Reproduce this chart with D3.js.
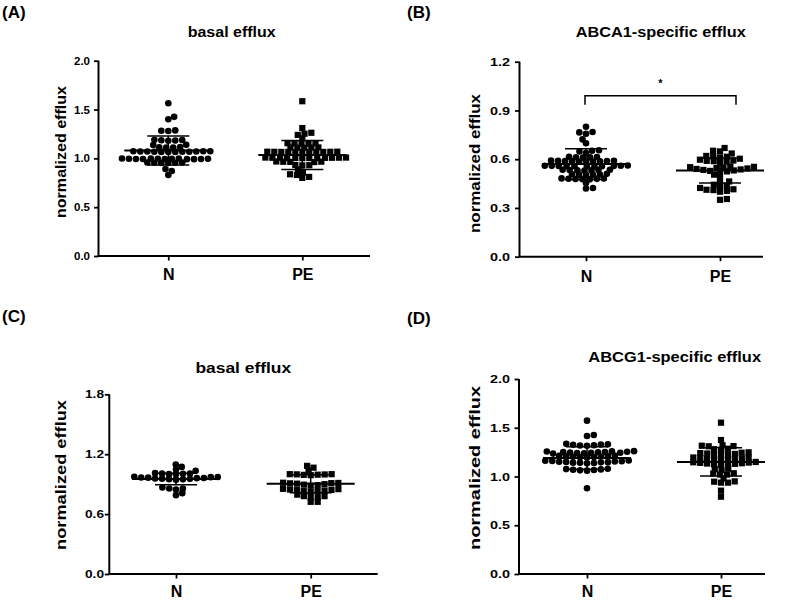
<!DOCTYPE html>
<html>
<head>
<meta charset="utf-8">
<script src="https://cdn.jsdelivr.net/npm/d3@7"></script>
<style>
  html, body { margin: 0; padding: 0; background: #fff; }
  text { font-family: "Liberation Sans", Arial, sans-serif; font-weight: bold; fill: #000; }
</style>
</head>
<body>
<div id="chart"></div>
<script>
// ---------------- data ----------------
const categories = ["N", "PE"];
const panelTags = ["(A)", "(B)", "(C)", "(D)"];
const panelTitles = ["basal efflux", "ABCA1-specific efflux", "basal efflux", "ABCG1-specific efflux"];
const yAxisTitle = "normalized efflux";

const ticksA = [0, 0.5, 1.0, 1.5, 2.0];
const ticksB = [0, 0.3, 0.6, 0.9, 1.2];
const ticksC = [0, 0.6, 1.2, 1.8];
const ticksD = [0, 0.5, 1.0, 1.5, 2.0];

// panel A: basal efflux
const aN = [0.83, 0.87, 0.89,
  0.952, 0.955, 0.958, 0.955, 0.952, 0.958,
  0.992, 0.994, 0.996, 0.998, 0.994, 0.996, 0.992, 0.998, 0.994, 0.996, 0.998, 0.992, 0.995,
  1.066, 1.068, 1.070, 1.072, 1.068, 1.070, 1.066, 1.072, 1.068, 1.070, 1.072, 1.066,
  1.110, 1.112, 1.115, 1.110, 1.136, 1.138,
  1.180, 1.183, 1.185, 1.188, 1.190,
  1.280, 1.283, 1.286,
  1.400, 1.425, 1.565];
const aPE = [0.80, 0.81, 0.83, 0.837, 0.855, 0.888,
  0.928, 0.930, 0.932,
  0.962, 0.964, 0.965, 0.966, 0.968,
  1.002, 1.003, 1.004, 1.005, 1.005, 1.006, 1.006, 1.007, 1.007, 1.008, 1.008, 1.004,
  1.064, 1.065, 1.065, 1.066, 1.066, 1.066, 1.067, 1.067, 1.068, 1.068, 1.064,
  1.108, 1.109, 1.110, 1.111, 1.112,
  1.150, 1.151, 1.152, 1.154, 1.155,
  1.205, 1.240, 1.252, 1.262, 1.310, 1.585];
const meanA = [1.08, 1.035];
const sdA = [0.148, 0.148];

// panel B: ABCA1-specific efflux
const bN = [0.420, 0.423, 0.453,
  0.476, 0.477, 0.478, 0.479, 0.480, 0.481, 0.482,
  0.503, 0.504, 0.505, 0.506, 0.508, 0.510,
  0.530, 0.531, 0.532, 0.533, 0.534, 0.535, 0.535,
  0.556, 0.556, 0.557, 0.557, 0.558, 0.558, 0.559, 0.559, 0.560, 0.560, 0.561,
  0.585, 0.586, 0.586, 0.587, 0.588, 0.588, 0.589, 0.590, 0.590, 0.591,
  0.610, 0.611, 0.612, 0.614, 0.615,
  0.638, 0.648, 0.652, 0.655,
  0.698, 0.722, 0.757, 0.765, 0.767, 0.800];
const bPE = [0.350, 0.355,
  0.400, 0.405, 0.410, 0.412, 0.415, 0.423, 0.430, 0.437, 0.443, 0.460, 0.463,
  0.490, 0.505,
  0.522, 0.525, 0.528, 0.531, 0.534, 0.537, 0.540, 0.543, 0.546, 0.549, 0.551, 0.553, 0.555,
  0.576, 0.585, 0.588, 0.590, 0.592, 0.597, 0.603, 0.610, 0.615, 0.617, 0.620, 0.635, 0.648, 0.652, 0.669];
const meanB = [0.57, 0.53];
const sdB = [0.095, 0.077];
const sigLabel = "*";
const sigBracketValue = 0.99;

// panel C: basal efflux
const cN = [0.790, 0.810,
  0.845, 0.855, 0.857, 0.866,
  0.945, 0.948, 0.950, 0.953, 0.955, 0.957, 0.960, 0.962, 0.965, 0.967, 0.970, 0.972, 0.974,
  1.000, 1.000, 1.003, 1.007, 1.007, 1.010,
  1.033, 1.047, 1.073, 1.097];
const cPE = [0.723, 0.723,
  0.770, 0.770, 0.780, 0.780, 0.795,
  0.825, 0.830, 0.833, 0.836, 0.840, 0.843, 0.846, 0.850, 0.853,
  0.885, 0.890, 0.895, 0.900, 0.905, 0.908, 0.910, 0.912, 0.914,
  0.990, 0.993, 0.995, 0.997, 0.998, 1.000, 1.000,
  1.033, 1.065, 1.083];
const meanC = [0.952, 0.905];
const sdC = [0.058, 0.09];

// panel D: ABCG1-specific efflux
const dN = [0.880,
  1.060, 1.063, 1.066, 1.070, 1.073, 1.076, 1.080,
  1.135, 1.138, 1.140, 1.142, 1.145, 1.147, 1.150, 1.152, 1.155, 1.157, 1.160, 1.162, 1.164,
  1.195, 1.197, 1.200, 1.202, 1.205, 1.207, 1.210, 1.212, 1.215,
  1.235, 1.237, 1.240, 1.242, 1.244, 1.246, 1.248, 1.250, 1.252, 1.254, 1.256, 1.258, 1.260,
  1.315, 1.318, 1.320, 1.325, 1.328, 1.330, 1.335,
  1.415, 1.426, 1.573];
const dPE = [0.793, 0.855,
  0.937, 0.937, 0.947, 0.950,
  0.980,
  1.020, 1.020, 1.030, 1.033,
  1.065, 1.075, 1.080,
  1.120, 1.125, 1.128, 1.130, 1.133, 1.136, 1.140, 1.143, 1.146, 1.149,
  1.170, 1.175, 1.178, 1.180, 1.183, 1.186, 1.190, 1.195, 1.198,
  1.220, 1.225, 1.228, 1.232, 1.236, 1.240, 1.244, 1.248,
  1.275, 1.280, 1.285,
  1.310, 1.312, 1.316, 1.320,
  1.374, 1.552];
const meanD = [1.19, 1.15];
const sdD = [0.115, 0.145];

// ---------------- layout (positions / sizes) ----------------
const layout = [
  {ax: 98.5, top: 60.7, bottom: 256, xEnd: 370, xN: 168.3, xPE: 302.3, tickW: 16, tickRight: 90, titleX: 231.7, titleY: 37, titleW: 88, labX: 65.7, labY: 152, labL: 132, catY: 280, tagX: 2, tagY: 18},
  {ax: 519.5, top: 61.7, bottom: 256.7, xEnd: 763, xN: 586, xPE: 720, tickW: 20, tickRight: 510, titleX: 660.7, titleY: 37.3, titleW: 170, labX: 480, labY: 163.5, labL: 139, catY: 281.7, tagX: 407, tagY: 18},
  {ax: 109.3, top: 394.3, bottom: 574, xEnd: 377.7, xN: 176, xPE: 310.7, tickW: 19, tickRight: 104, titleX: 243.3, titleY: 372.5, titleW: 95.7, labX: 65.7, labY: 475, labL: 150, catY: 597, tagX: 2, tagY: 321.5},
  {ax: 519, top: 379, bottom: 574, xEnd: 765, xN: 587, xPE: 721, tickW: 20, tickRight: 510, titleX: 674.7, titleY: 361.7, titleW: 172.7, labX: 480, labY: 468, labL: 164, catY: 597, tagX: 407, tagY: 323.5}
];

const panelData = [
  {ticks: ticksA, groups: [aN, aPE], mean: meanA, sd: sdA},
  {ticks: ticksB, groups: [bN, bPE], mean: meanB, sd: sdB, sig: true},
  {ticks: ticksC, groups: [cN, cPE], mean: meanC, sd: sdC},
  {ticks: ticksD, groups: [dN, dPE], mean: meanD, sd: sdD}
];

const W = 790, H = 600;
const svg = d3.select("#chart").append("svg").attr("width", W).attr("height", H);

// beeswarm with an elliptical keep-out zone (DX wide, DY tall):
// points in ascending order go to the free spot nearest the centre
function swarm(values, y, DX, DY) {
  const pts = values.map(v => ({v, y: y(v)})).sort((a, b) => a.v - b.v);
  const placed = [];
  let flip = 1;
  const clash = (q, cx, cy) => ((q.x - cx) / DX) ** 2 + ((q.y - cy) / DY) ** 2 < 1 - 1e-6;
  for (const p of pts) {
    const cand = [0];
    for (const q of placed) {
      const dy = Math.abs(q.y - p.y);
      if (dy < DY) {
        const dx = DX * Math.sqrt(1 - (dy / DY) ** 2);
        cand.push(q.x + dx, q.x - dx);
      }
    }
    cand.sort((a, b) => (Math.abs(a) - Math.abs(b)) || (flip * (a - b)));
    for (const c of cand) {
      if (!placed.some(q => clash(q, c, p.y))) { p.x = c; break; }
    }
    flip = -flip;
    placed.push(p);
  }
  return placed;
}

panelData.forEach((pd, i) => {
  const L = layout[i];
  const g = svg.append("g");
  const yMax = pd.ticks[pd.ticks.length - 1];
  const y = d3.scaleLinear().domain([0, yMax]).range([L.bottom, L.top]);
  const x = d3.scalePoint().domain(categories).range([L.xN, L.xPE]);

  g.append("text").attr("x", L.tagX).attr("y", L.tagY).attr("font-size", 17).text(panelTags[i]);
  g.append("text").attr("x", L.titleX).attr("y", L.titleY).attr("text-anchor", "middle")
    .attr("font-size", 14.5).attr("textLength", L.titleW).attr("lengthAdjust", "spacingAndGlyphs")
    .text(panelTitles[i]);
  g.append("text").attr("transform", `translate(${L.labX},${L.labY}) rotate(-90)`)
    .attr("text-anchor", "middle").attr("font-size", 15)
    .attr("textLength", L.labL).attr("lengthAdjust", "spacingAndGlyphs")
    .text(yAxisTitle);

  const yAxis = d3.axisLeft(y).tickValues(pd.ticks).tickFormat(d3.format(".1f")).tickSize(4.5).tickPadding(0);
  const ya = g.append("g").attr("transform", `translate(${L.ax},0)`).call(yAxis);
  ya.select(".domain").attr("d", `M0,${L.bottom}V${L.top}`).attr("stroke", "#000").attr("stroke-width", 2);
  ya.selectAll(".tick line").attr("stroke", "#000").attr("stroke-width", 1.8);
  ya.selectAll(".tick text")
    .attr("x", L.tickRight - L.ax).attr("dy", null).attr("y", 3.6)
    .attr("font-size", 10).attr("font-family", null).attr("text-anchor", "end")
    .attr("textLength", L.tickW).attr("lengthAdjust", "spacingAndGlyphs");

  const xAxis = d3.axisBottom(x).tickSize(4.5).tickPadding(0);
  const xa = g.append("g").attr("transform", `translate(0,${L.bottom})`).call(xAxis);
  xa.select(".domain").attr("d", `M${L.ax - 1},0H${L.xEnd}`).attr("stroke", "#000").attr("stroke-width", 2);
  xa.selectAll(".tick line").attr("stroke", "#000").attr("stroke-width", 1.8);
  xa.selectAll(".tick text").attr("y", L.catY - L.bottom).attr("dy", null)
    .attr("font-size", 16).attr("font-family", null);
  g.selectAll(".domain").attr("fill", "none");

  pd.groups.forEach((vals, gi) => {
    const cx = x(categories[gi]);
    const pts = swarm(vals, y, 7, 4.5);
    if (gi === 0) {
      g.append("g").selectAll("circle").data(pts).join("circle")
        .attr("cx", p => cx + p.x).attr("cy", p => p.y).attr("r", 3.3).attr("fill", "#000");
    } else {
      const s = 6.2;
      g.append("g").selectAll("rect").data(pts).join("rect")
        .attr("x", p => cx + p.x - s / 2).attr("y", p => p.y - s / 2)
        .attr("width", s).attr("height", s).attr("fill", "#000");
    }
    const m = pd.mean[gi], sd = pd.sd[gi];
    const eb = g.append("g").attr("stroke", "#000");
    eb.append("line").attr("x1", cx - 44).attr("x2", cx + 44).attr("y1", y(m)).attr("y2", y(m)).attr("stroke-width", 2);
    eb.append("line").attr("x1", cx).attr("x2", cx).attr("y1", y(m - sd)).attr("y2", y(m + sd)).attr("stroke-width", 1.5);
    [m - sd, m + sd].forEach(v => {
      eb.append("line").attr("x1", cx - 21).attr("x2", cx + 21).attr("y1", y(v)).attr("y2", y(v)).attr("stroke-width", 1.5);
    });
  });

  if (pd.sig) {
    const yb = y(sigBracketValue);
    const x1 = x(categories[0]) - 1, x2 = x(categories[1]) + 16;
    g.append("path").attr("d", `M${x1},${yb + 9}V${yb}H${x2}V${yb + 9}`)
      .attr("fill", "none").attr("stroke", "#000").attr("stroke-width", 1.5);
    g.append("text").attr("x", (x1 + x2) / 2).attr("y", yb - 9).attr("text-anchor", "middle")
      .attr("font-size", 11).text(sigLabel);
  }
});
</script>
</body>
</html>
